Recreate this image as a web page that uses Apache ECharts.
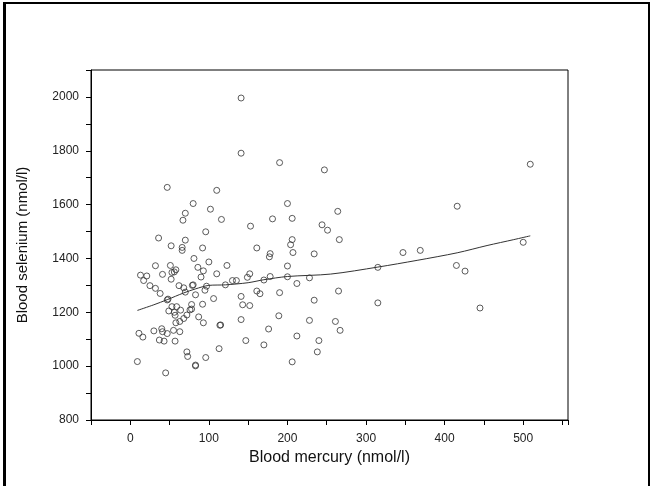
<!DOCTYPE html>
<html>
<head>
<meta charset="utf-8">
<script src="https://cdn.jsdelivr.net/npm/echarts@6/dist/echarts.min.js"></script>
<style>
html,body{margin:0;padding:0;background:#fff;}
#chart{position:absolute;left:0;top:0;width:652px;height:486px;}
#frame{position:absolute;left:3px;top:2px;width:647px;height:500px;box-sizing:border-box;border-left:3px solid #000;border-top:2px solid #000;border-right:2px solid #000;pointer-events:none;}
</style>
</head>
<body>
<div id="chart"></div>
<div id="frame"></div>
<script>
const mercury = [141,141,190,247,509,47,110,80,200,416,102,70,264,67,116,181,206,153,244,251,96,36,70,206,266,52,204,66,92,161,66,207,178,177,234,347,369,500,81,100,32,51,123,200,415,426,315,86,58,93,56,53,13,21,41,110,152,90,149,200,228,178,17,52,130,135,170,25,62,80,79,121,97,212,32,68,95,38,70,83,161,165,190,265,141,106,48,47,234,315,78,92,143,152,53,59,445,78,76,49,64,56,57,72,87,189,68,141,58,63,93,228,261,114,115,176,30,40,41,63,55,267,11,47,16,212,37,43,57,147,240,170,113,72,73,238,96,9,206,83,83,45];
const selenium = [1996,1791,1756,1729,1750,1664,1653,1604,1604,1594,1583,1568,1575,1542,1545,1547,1549,1520,1525,1505,1499,1476,1468,1470,1470,1447,1451,1441,1439,1439,1430,1422,1418,1406,1417,1422,1430,1460,1400,1387,1373,1374,1374,1372,1374,1353,1367,1367,1358,1354,1350,1348,1338,1335,1341,1343,1343,1331,1330,1332,1328,1333,1318,1323,1318,1318,1320,1299,1299,1302,1300,1302,1297,1307,1289,1291,1282,1270,1275,1265,1279,1269,1273,1279,1259,1251,1249,1246,1245,1235,1229,1230,1228,1225,1221,1221,1216,1212,1209,1205,1208,1200,1189,1190,1183,1187,1177,1173,1161,1166,1161,1170,1166,1152,1153,1138,1131,1139,1128,1128,1133,1133,1122,1121,1108,1112,1097,1093,1093,1095,1095,1079,1065,1053,1036,1053,1032,1017,1016,1004,1001,975];
const lowessX = [9,30,47,68,83,100,121,150,170,200,255,315,365,416,454,488,509];
const lowessY = [1207,1228,1247,1272,1287,1300,1302,1310,1321,1333,1342,1368,1393,1421,1448,1470,1484];
const xTickLabels = [0,100,200,300,400,500];
const yTickLabels = [800,1000,1200,1400,1600,1800,2000];

const points = mercury.map((m,i)=>[m, selenium[i]]);
const curve = lowessX.map((x,i)=>[x, lowessY[i]]);
const font = 'Liberation Sans, Arial, sans-serif';

const chart = echarts.init(document.getElementById('chart'), null, {renderer:'canvas'});
chart.setOption({
  animation:false,
  backgroundColor:'#fff',
  grid:{left:91,right:84,top:70,bottom:66,show:true,borderColor:'#000',borderWidth:1,backgroundColor:'transparent'},
  xAxis:{
    type:'value',min:-50,max:557,interval:50,
    name:'Blood mercury (nmol/l)',nameLocation:'middle',nameGap:30,
    nameTextStyle:{fontFamily:font,fontSize:16,color:'#111'},
    axisLine:{show:true,onZero:false,lineStyle:{color:'#000',width:1}},
    axisTick:{show:true,inside:false,length:5,lineStyle:{color:'#000'}},
    axisLabel:{margin:13,fontFamily:font,fontSize:12,color:'#222',
      formatter:v=> xTickLabels.includes(v) ? String(v) : ''},
    splitLine:{show:false}
  },
  yAxis:{
    type:'value',min:800,max:2100,interval:100,
    name:'Blood selenium (nmol/l)',nameLocation:'middle',nameGap:61,nameRotate:90,
    nameTextStyle:{fontFamily:font,fontSize:15,color:'#111'},
    axisLine:{show:true,onZero:false,lineStyle:{color:'#000',width:1}},
    axisTick:{show:true,inside:false,length:5,lineStyle:{color:'#000'}},
    axisLabel:{margin:12,fontFamily:font,fontSize:12,color:'#222',
      formatter:v=> yTickLabels.includes(v) ? String(v) : ''},
    splitLine:{show:false}
  },
  series:[
    {type:'scatter',data:points,symbol:'circle',symbolSize:6,
     itemStyle:{color:'rgba(0,0,0,0)',borderColor:'#333',borderWidth:1},
     emphasis:{disabled:true},z:3},
    {type:'line',data:curve,smooth:0.3,showSymbol:false,symbol:'none',
     lineStyle:{color:'#333',width:1},emphasis:{disabled:true},z:2}
  ]
});
</script>
</body>
</html>
